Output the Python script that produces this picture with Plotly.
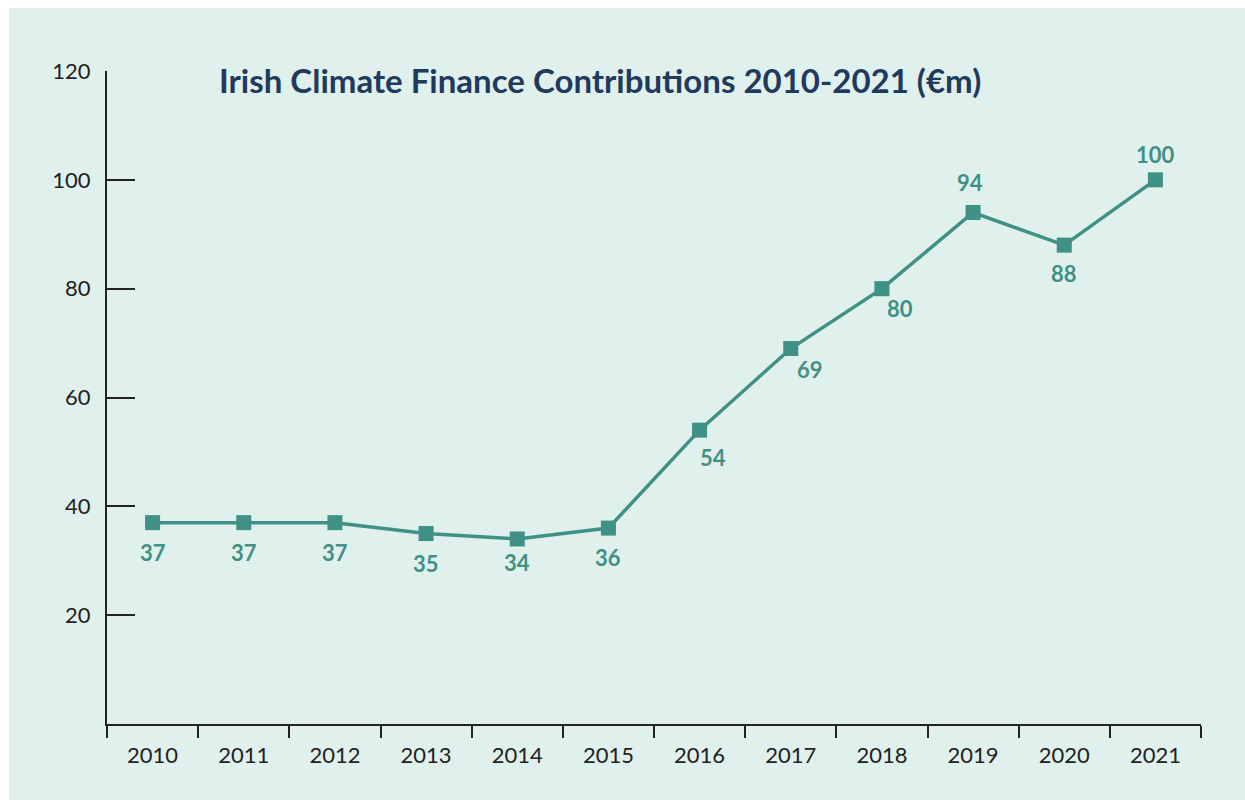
import plotly.graph_objects as go

years = ["2010", "2011", "2012", "2013", "2014", "2015", "2016", "2017", "2018", "2019", "2020", "2021"]
values = [37, 37, 37, 35, 34, 36, 54, 69, 80, 94, 88, 100]
y_ticks = [20, 40, 60, 80, 100, 120]
title_text = "Irish Climate Finance Contributions 2010-2021 (€m)"

# label offsets (pixels) for data labels
label_dx = [0, 0, 0, 0, 0, 0, 13, 19, 18, -3, 0, 0]
label_dy = [-30, -30, -30, -30, -24, -29, -27, -21, -20, 30, -28, 25]

MINT = "#e0f0ec"
TEAL = "#3f9085"
NAVY = "#1f3a5c"
DARK = "#222222"

W, H = 1245, 800
L, R, T, B = 107, 44, 71, 76
pw, ph = W - L - R, H - T - B

fig = go.Figure()
fig.add_trace(go.Scatter(
    x=years, y=values, mode="lines+markers",
    line=dict(color=TEAL, width=3.5),
    marker=dict(symbol="square", size=15, color=TEAL),
    cliponaxis=False, hoverinfo="x+y",
))

for i, v in enumerate(values):
    fig.add_annotation(
        x=i, y=v, text="<b>" + str(v) + "</b>", showarrow=False,
        xshift=label_dx[i], yshift=label_dy[i],
        font=dict(family="Lato", size=22, color=TEAL),
    )

fig.add_annotation(
    xref="paper", yref="paper", x=(600 - L) / pw, y=(H - B - 80) / ph,
    text="<b>" + title_text + "</b>", showarrow=False,
    font=dict(family="Lato", size=33, color=NAVY),
    xanchor="center", yanchor="middle",
)

fig.add_shape(
    type="rect", xref="paper", yref="paper", layer="below",
    x0=(9 - L) / pw, x1=(W + 10 - L) / pw,
    y0=(H - B - H - 10) / ph, y1=(H - B - 8) / ph,
    fillcolor=MINT, line=dict(width=0),
)

fig.update_layout(
    width=W, height=H,
    margin=dict(l=L, r=R, t=T, b=B),
    paper_bgcolor="white", plot_bgcolor=MINT,
    showlegend=False,
    font=dict(family="Lato", size=22, color=DARK),
)
fig.update_xaxes(
    type="category", range=[-0.5, 11.5], tickson="boundaries",
    ticks="outside", ticklen=12, tickwidth=2, tickcolor=DARK,
    showline=True, linecolor=DARK, linewidth=2,
    showgrid=False, zeroline=False,
    tickfont=dict(family="Lato", size=22, color=DARK),
    ticklabelstandoff=11,
)
fig.update_yaxes(
    range=[0, 120], tickvals=y_ticks,
    ticks="inside", ticklen=28, tickwidth=2, tickcolor=DARK,
    showline=True, linecolor=DARK, linewidth=2,
    showgrid=False, zeroline=False,
    tickfont=dict(family="Lato", size=22, color=DARK),
    ticklabelstandoff=10,
)

fig.write_html("out.html")
